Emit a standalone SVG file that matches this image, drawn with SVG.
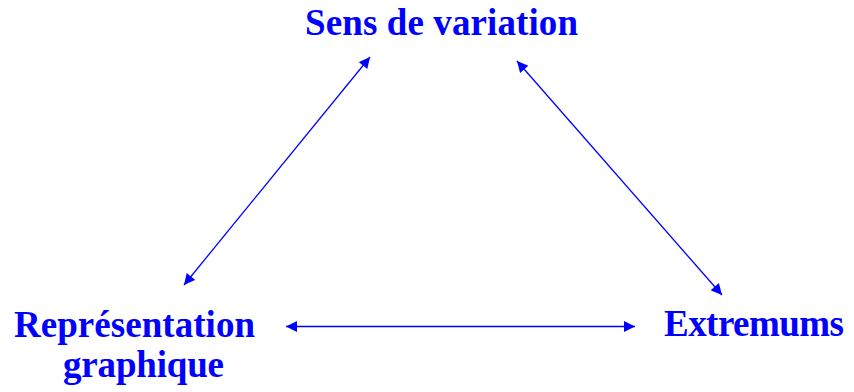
<svg xmlns="http://www.w3.org/2000/svg" width="854" height="392" viewBox="0 0 854 392">
<style>
.lbl{font-family:"Liberation Serif","Times New Roman",serif;font-weight:bold;font-size:37px;fill:#0000ff}
.conn{stroke:#0000ff;stroke-width:1.3;fill:none}
</style>
<defs>
<marker id="ah" viewBox="0 0 10 10" refX="10" refY="5" markerWidth="12" markerHeight="11" markerUnits="userSpaceOnUse" orient="auto-start-reverse">
<path d="M0,0 L10,5 L0,10 Z" fill="#0000ff"/>
</marker>
</defs>
<rect width="854" height="392" fill="#ffffff"/>
<g id="sens"><text class="lbl" x="305" y="35" textLength="273">Sens de variation</text></g>
<g id="representation"><text class="lbl" x="14" y="337" textLength="241">Représentation</text><text class="lbl" x="63" y="377" textLength="161">graphique</text></g>
<g id="extremums"><text class="lbl" x="664" y="336" textLength="180">Extremums</text></g>
<g id="connectors">
<line class="conn" x1="184" y1="285" x2="370" y2="57" marker-start="url(#ah)" marker-end="url(#ah)"/>
<line class="conn" x1="517" y1="61" x2="722" y2="295" marker-start="url(#ah)" marker-end="url(#ah)"/>
<line class="conn" x1="286" y1="326.5" x2="635" y2="326.5" marker-start="url(#ah)" marker-end="url(#ah)"/>
</g>
</svg>
